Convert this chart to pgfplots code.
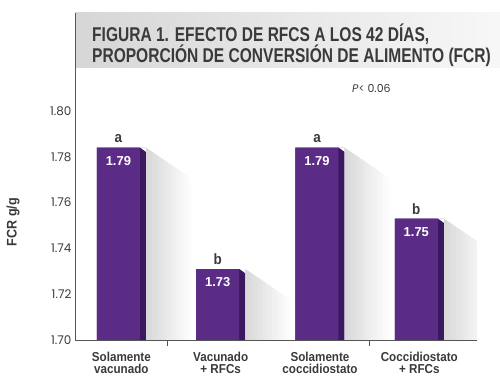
\documentclass[border=0pt]{standalone}
\usepackage{pgfplots}
\pgfplotsset{compat=1.18}
\usepackage{fontspec}
\setmainfont{Liberation Sans}
\newfontfamily\titlefont[FakeStretch=0.78]{Liberation Sans}
\newfontfamily\labfont[FakeStretch=0.9]{Liberation Sans}
\newfontfamily\geofont{Poppins}
\definecolor{barmain}{HTML}{5B2C86}
\definecolor{barside}{HTML}{3C1862}
\definecolor{txtgray}{HTML}{3A3A3A}
\definecolor{axisgray}{HTML}{555555}
\begin{document}
\begin{tikzpicture}
\fill[left color=black!16, right color=black!3] (0,272bp) rectangle (425bp,327bp);
\node[anchor=base west, text=txtgray, font=\titlefont\bfseries\fontsize{20}{22}\selectfont, inner sep=0] at (17bp,298bp) {FIGURA 1. EFECTO DE RFCS A LOS 42 DÍAS,};
\node[anchor=base west, text=txtgray, font=\titlefont\bfseries\fontsize{20}{22}\selectfont, inner sep=0] at (17bp,277bp) {PROPORCIÓN DE CONVERSIÓN DE ALIMENTO (FCR)};
\begin{axis}[
  name=ax, at={(0,0)}, anchor=south west,
  scale only axis, width=402bp, height=327bp,
  xmin=-0.467, xmax=3.581, ymin=1.70, ymax=1.8428,
  axis x line=bottom, axis y line=left,
  axis line style={-, draw=axisgray, line width=0.8bp},
  ytick={1.70,1.72,1.74,1.76,1.78,1.80},
  /pgf/number format/fixed, /pgf/number format/fixed zerofill,
  /pgf/number format/precision=2, /pgf/number format/assume math mode=true,
  y tick label style={font=\geofont\fontsize{12}{14}\selectfont, text=txtgray},
  major tick length=0pt,
  xtick={0,1,2,3},
  xticklabels={{Solamente\\vacunado},{Vacunado\\+ RFCs},{Solamente\\coccidiostato},{Coccidiostato\\+ RFCs}},
  x tick label style={align=center, text=txtgray, yshift=-9bp,
     font=\labfont\bfseries\fontsize{13}{12}\selectfont},
  extra x ticks={0.46,2.5}, extra x tick labels={},
  extra x tick style={major tick length=6bp, tick align=outside,
     tick style={draw=axisgray, line width=0.8bp}},
  clip=true,
]
% shadows, drawn as strips fading to white
\foreach \x/\h in {0/1.784, 1/1.731, 2/1.784, 3/1.753}{
  \foreach \k in {0,...,14}{
    \pgfmathsetmacro\xa{\x+0.2475+0.03*\k}
    \pgfmathsetmacro\xb{\x+0.2475+0.03*(\k+1)+0.003}
    \pgfmathsetmacro\ya{\h-0.03*0.03*\k}
    \pgfmathsetmacro\yb{\h-0.03*0.03*(\k+1)}
    \pgfmathsetmacro\c{15*(1-\k/15)}
    \edef\temp{\noexpand\fill[black!\c] (axis cs:\xa,\ya) -- (axis cs:\xb,\yb) -- (axis cs:\xb,1.70) -- (axis cs:\xa,1.70) -- cycle;}
    \temp
  }
}
% bars
\addplot[ybar, bar width=49bp, bar shift=0pt, fill=barside, draw=none]
  coordinates {(0,1.784) (1,1.731) (2,1.784) (3,1.753)};
\addplot[ybar, bar width=43bp, bar shift=-3bp, fill=barmain, draw=none]
  coordinates {(0,1.784) (1,1.731) (2,1.784) (3,1.753)};
% chamfers
\fill[white] (axis cs:0.187,1.7841) -- (axis cs:0.2475,1.7841) -- (axis cs:0.2475,1.7822) -- cycle;
\fill[white] (axis cs:1.187,1.7311) -- (axis cs:1.2475,1.7311) -- (axis cs:1.2475,1.7292) -- cycle;
\fill[white] (axis cs:2.187,1.7841) -- (axis cs:2.2475,1.7841) -- (axis cs:2.2475,1.7822) -- cycle;
\fill[white] (axis cs:3.187,1.7531) -- (axis cs:3.2475,1.7531) -- (axis cs:3.2475,1.7512) -- cycle;
% labels
\foreach \x/\h/\v/\l in {0/1.784/1.79/a, 1/1.731/1.73/b, 2/1.784/1.79/a, 3/1.753/1.75/b}{
  \edef\temp{\noexpand\node[text=white, font=\noexpand\bfseries\noexpand\fontsize{13}{14}\noexpand\selectfont, inner sep=0, xshift=-3bp, yshift=-13bp] at (axis cs:\x,\h) {\v};
  \noexpand\node[text=txtgray, font=\noexpand\labfont\noexpand\bfseries\noexpand\fontsize{15}{16}\noexpand\selectfont, inner sep=0, xshift=-3bp, yshift=9.5bp] at (axis cs:\x,\h) {\l};}
  \temp
}
\end{axis}
\node[anchor=west, text=txtgray, font=\geofont\fontsize{11}{13}\selectfont, inner sep=0] at (277bp,252bp) {\textit{P}< 0.06};
\node[rotate=90, text=txtgray, font=\labfont\bfseries\fontsize{14}{16}\selectfont, inner sep=0] at (-62bp,118bp) {FCR g/g};
\pgfresetboundingbox
\path[use as bounding box] (-75bp,-45bp) rectangle (425bp,340bp);
\end{tikzpicture}
\end{document}
